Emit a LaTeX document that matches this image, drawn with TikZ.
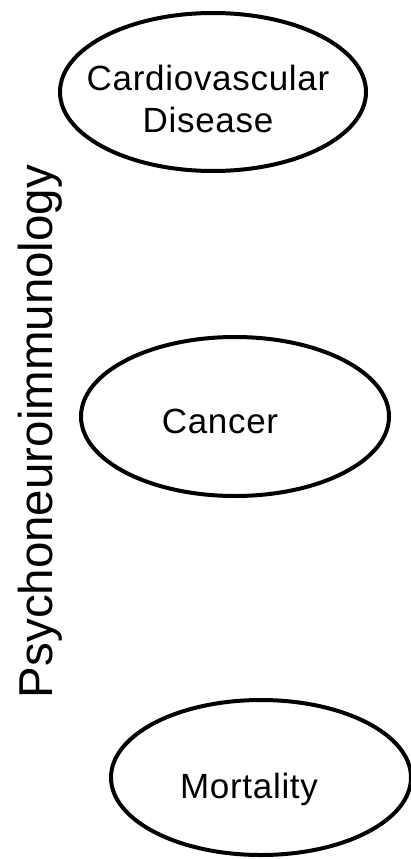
\documentclass[tikz,border=0pt]{standalone}
\usepackage{fontspec}
\setmainfont{Liberation Sans}
\newfontfamily\spacedsans[LetterSpace=2]{Liberation Sans}
\usetikzlibrary{shapes.geometric}
\begin{document}
\begin{tikzpicture}[x=1pt,y=-1pt,
  outcome/.style={draw=black, line width=4pt, ellipse, inner sep=0pt},
  outlabel/.style={font=\spacedsans\fontsize{35}{42}\selectfont, align=center, inner sep=0pt, anchor=base},
  sidelabel/.style={font=\fontsize{47.5}{57}\selectfont, rotate=90, anchor=base, inner sep=0pt}]
  \useasboundingbox (0,0) rectangle (411,859);
  \begin{scope}
    \clip (0,0) rectangle (411,859);
    % outcome ellipses
    \node[outcome, minimum width=306pt, minimum height=158pt] (cvd) at (213,92) {};
    \node[outcome, minimum width=308pt, minimum height=159pt] (cancer) at (235,416.5) {};
    \node[outcome, minimum width=300pt, minimum height=155pt] (mort) at (261,777.5) {};
  \end{scope}
  % labels inside the ellipses (base = baseline of the last line)
  \node[outlabel] (cvdtext) at (208,132) {Cardiovascular\\Disease};
  \node[outlabel] (cancertext) at (220,433) {Cancer};
  \node[outlabel] (morttext) at (249,798) {Mortality};
  % vertical field label
  \node[sidelabel] (pni) at (52,431.5) {Psychoneuroimmunology};
\end{tikzpicture}
\end{document}
